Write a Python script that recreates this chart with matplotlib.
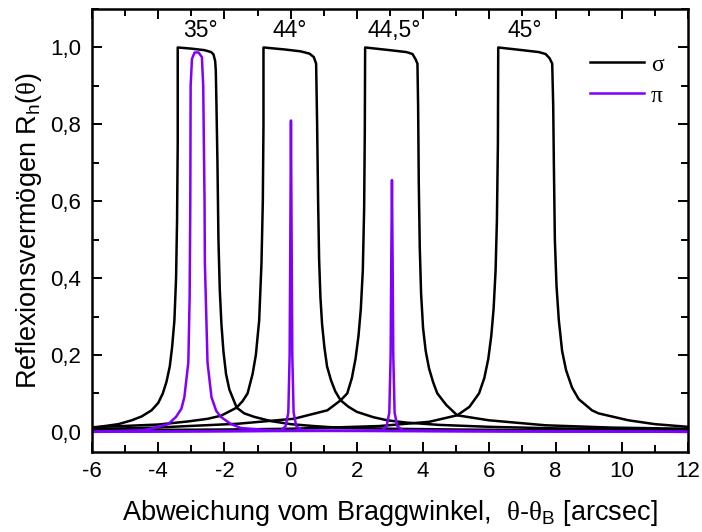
import numpy as np
import matplotlib
matplotlib.use("Agg")
import matplotlib.pyplot as plt
from matplotlib.ticker import MultipleLocator, FuncFormatter

plt.rcParams['font.family'] = ['Liberation Sans', 'DejaVu Sans']
plt.rcParams['mathtext.fontset'] = 'custom'
plt.rcParams['mathtext.rm'] = 'Liberation Sans'
plt.rcParams['mathtext.sf'] = 'Liberation Serif'

# sigma polarisation curves
s35_x = [-6, -5.7, -5.2, -4.8, -4.5, -4.2, -4.0, -3.86, -3.75, -3.65, -3.58, -3.51, -3.46, -3.43, -3.41, -3.41,
         -3.0, -2.6, -2.4, -2.33, -2.28, -2.26, -2.24, -2.21, -2.18, -2.14, -2.09, -2.03, -1.95, -1.85, -1.63,
         -1.4, -1.1, -0.6, 0.0, 0.7, 1.4, 3, 5, 8, 12]
s35_y = [0.010, 0.014, 0.020, 0.030, 0.040, 0.056, 0.075, 0.10, 0.13, 0.17, 0.22, 0.29, 0.40, 0.55, 0.75, 1.0,
         0.997, 0.993, 0.988, 0.982, 0.965, 0.94, 0.85, 0.70, 0.50, 0.37, 0.28, 0.21, 0.15, 0.11, 0.063,
         0.048, 0.039, 0.028, 0.020, 0.015, 0.011, 0.008, 0.006, 0.004, 0.003]

s44_x = [-6, -5.1, -4, -3.1, -2.5, -2.1, -1.63, -1.45, -1.3, -1.15, -1.05, -0.95, -0.88, -0.84, -0.82, -0.82,
         -0.2, 0.3, 0.57, 0.7, 0.77, 0.8, 0.83, 0.86, 0.9, 0.95, 1.02, 1.1, 1.22, 1.35, 1.51, 1.75, 2.0, 2.5,
         2.92, 3.5, 4.5, 6, 8, 10, 12]
s44_y = [0.012, 0.015, 0.019, 0.027, 0.034, 0.042, 0.063, 0.08, 0.10, 0.15, 0.20, 0.29, 0.44, 0.6, 0.8, 1.0,
         0.995, 0.99, 0.984, 0.975, 0.958, 0.8, 0.6, 0.45, 0.35, 0.28, 0.22, 0.17, 0.134, 0.105, 0.082, 0.065,
         0.052, 0.038, 0.030, 0.024, 0.018, 0.013, 0.009, 0.007, 0.005]

s445_x = [-6, -4.1, -1.6, 0.1, 1.11, 1.51, 1.71, 1.85, 1.96, 2.05, 2.12, 2.18, 2.22, 2.24, 2.25,
          3.0, 3.5, 3.68, 3.77, 3.83, 3.85, 3.87, 3.9, 3.94, 4.0, 4.08, 4.18, 4.3, 4.43, 4.7, 5.03, 5.99,
          7.7, 9.7, 12]
s445_y = [0.007, 0.011, 0.021, 0.034, 0.056, 0.082, 0.10, 0.14, 0.19, 0.25, 0.32, 0.42, 0.58, 0.78, 1.0,
          0.993, 0.988, 0.983, 0.97, 0.958, 0.85, 0.65, 0.48, 0.36, 0.27, 0.21, 0.165, 0.13, 0.10, 0.07,
          0.043, 0.030, 0.017, 0.011, 0.008]

s45_x = [-6, -2, 0, 2.67, 4.18, 5.03, 5.4, 5.69, 5.85, 5.97, 6.06, 6.13, 6.19, 6.23, 6.26, 6.27,
         7.0, 7.5, 7.70, 7.82, 7.90, 7.93, 7.95, 7.98, 8.03, 8.10, 8.2, 8.32, 8.5, 8.7, 9.1, 9.3, 10.2,
         11.0, 12]
s45_y = [0.004, 0.006, 0.008, 0.015, 0.026, 0.043, 0.065, 0.10, 0.14, 0.19, 0.25, 0.32, 0.42, 0.55, 0.75, 1.0,
         0.993, 0.988, 0.983, 0.972, 0.958, 0.85, 0.698, 0.5, 0.38, 0.29, 0.21, 0.16, 0.115, 0.085, 0.056,
         0.048, 0.030, 0.020, 0.013]

# pi polarisation curves
p35_x = [-6, -4.5, -4.11, -3.7, -3.46, -3.3, -3.21, -3.09, -3.05, -3.03, -3.02, -2.98, -2.9, -2.78, -2.68,
         -2.64, -2.6, -2.59, -2.51, -2.39, -2.25, -2.11, -1.8, -1.5, -0.5, 12]
p35_y = [0.0, 0.004, 0.01, 0.02, 0.039, 0.06, 0.09, 0.18, 0.35, 0.6, 0.9, 0.97, 0.987, 0.987, 0.975,
         0.9, 0.6, 0.44, 0.18, 0.09, 0.055, 0.039, 0.02, 0.01, 0.003, 0.0]

p44_x = [-6, -0.3, -0.15, -0.07, -0.03, -0.01, 0.01, 0.03, 0.05, 0.09, 0.17, 0.35, 12]
p44_y = [0.0, 0.003, 0.015, 0.05, 0.2, 0.5, 0.81, 0.5, 0.2, 0.05, 0.015, 0.003, 0.0]

p445_x = [-6, 2.75, 2.9, 2.98, 3.02, 3.04, 3.06, 3.08, 3.10, 3.14, 3.22, 3.4, 12]
p445_y = [0.0, 0.003, 0.015, 0.05, 0.2, 0.45, 0.655, 0.45, 0.2, 0.05, 0.015, 0.003, 0.0]

angle_labels = ['35°', '44°', '44,5°', '45°']
angle_x = [-2.73, -0.03, 3.13, 7.06]
angle_y = 1.045

purple = '#7F00FF'

fig = plt.figure(figsize=(7.02, 5.32), dpi=100)
ax = fig.add_axes([0.131, 0.150, 0.849, 0.833])

ax.plot(s35_x, s35_y, color='black', lw=1.8, label='σ')
ax.plot(s44_x, s44_y, color='black', lw=1.8)
ax.plot(s445_x, s445_y, color='black', lw=1.8)
ax.plot(s45_x, s45_y, color='black', lw=1.8)
ax.plot(p35_x, p35_y, color=purple, lw=1.8, label='π')
ax.plot(p44_x, p44_y, color=purple, lw=1.8)
ax.plot(p445_x, p445_y, color=purple, lw=1.8)

for lab, xx in zip(angle_labels, angle_x):
    ax.text(xx, angle_y, lab, ha='center', va='center', fontsize=16.5)

ax.set_xlim(-6, 12)
ax.set_ylim(-0.053, 1.1)
ax.xaxis.set_major_locator(MultipleLocator(2))
ax.xaxis.set_minor_locator(MultipleLocator(1))
ax.yaxis.set_major_locator(MultipleLocator(0.2))
ax.yaxis.set_minor_locator(MultipleLocator(0.1))
ax.yaxis.set_major_formatter(FuncFormatter(lambda v, p: f"{v:.1f}".replace('.', ',')))
ax.xaxis.set_major_formatter(FuncFormatter(lambda v, p: f"{v:g}"))
ax.tick_params(which='both', direction='in', top=True, right=True, width=1.4, labelsize=16)
ax.tick_params(which='major', length=7)
ax.tick_params(which='minor', length=5)
ax.tick_params(axis='x', pad=6)
ax.tick_params(axis='y', pad=8)
for sp in ax.spines.values():
    sp.set_linewidth(1.8)

ax.set_xlabel(r'Abweichung vom Braggwinkel,  $\mathsf{\theta}$-$\mathsf{\theta}_{\mathrm{B}}$ [arcsec]',
              fontsize=19.5, labelpad=12)
ax.set_ylabel(r'Reflexionsvermögen R$_{\mathrm{h}}$($\mathsf{\theta}$)', fontsize=19.5, labelpad=4)

leg = ax.legend(loc='upper right', frameon=False, handlelength=2.3, handletextpad=0.3, labelspacing=0.4,
                prop={'family': 'Liberation Serif', 'size': 17}, bbox_to_anchor=(0.995, 0.946))

fig.savefig('out.png', dpi=100)
